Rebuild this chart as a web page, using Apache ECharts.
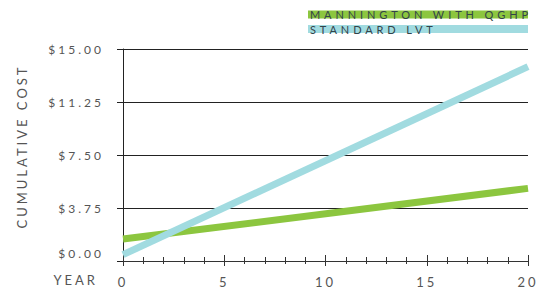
<!DOCTYPE html>
<html>
<head>
<meta charset="utf-8">
<script src="https://cdn.jsdelivr.net/npm/echarts@6/dist/echarts.min.js"></script>
<style>
  html, body { margin: 0; padding: 0; background: #fff; }
  #chart { width: 540px; height: 288px; }
  /* wide tracking like the original type */
  #chart text { letter-spacing: 3px; }
  #chart text[style*="11px"] { letter-spacing: 3.9px; }
</style>
</head>
<body>
<div id="chart"></div>
<script>
// data
const seriesNames = ['MANNINGTON WITH QGHP', 'STANDARD LVT'];
const years = [0, 20];
const manningtonCost = [1.55, 5.14];
const standardCost = [0.45, 13.75];
const seriesColors = ['#8cc63f', '#a1dbe0'];

const FONT = 'Lato';
const chart = echarts.init(document.getElementById('chart'), null, { renderer: 'svg' });

// one cross-tick x axis = an outside one plus an inside one laid on top
function xAxisBase(inside, showLabels) {
  return {
    type: 'value',
    position: 'bottom',
    min: 0,
    max: 20,
    interval: 5,
    axisLine: { show: !inside, lineStyle: { color: '#333', width: 1 } },
    axisTick: { show: true, inside: inside, length: inside ? 6 : 5, lineStyle: { color: '#333' } },
    minorTick: { show: true, splitNumber: 5, length: inside ? 4 : 3, lineStyle: { color: '#333' } },
    axisLabel: {
      show: showLabels, color: '#555', fontFamily: FONT, fontSize: 13, margin: 14
    },
    splitLine: { show: false }
  };
}

const xMain = xAxisBase(false, true);
xMain.name = 'YEAR';
xMain.nameLocation = 'start';
xMain.nameGap = 25;
xMain.nameTextStyle = {
  color: '#555', fontFamily: FONT, fontSize: 13,
  verticalAlign: 'top', lineHeight: 13, padding: [12, 0, 0, 0]
};

chart.setOption({
  animation: false,
  grid: { left: 123, right: 12, top: 49, bottom: 26, containLabel: false },
  legend: {
    data: seriesNames,
    orient: 'vertical',
    right: 12,
    top: 9,
    padding: 0,
    itemWidth: 0,
    itemHeight: 0,
    itemGap: 3.5,
    selectedMode: false,
    formatter: name => name === seriesNames[0] ? `{g|${name}}` : `{b|${name}}`,
    textStyle: {
      rich: {
        g: { backgroundColor: seriesColors[0], color: '#33434a', fontFamily: FONT, fontSize: 11,
             width: 218, height: 8, lineHeight: 8, padding: [0, 0, 0, 2] },
        b: { backgroundColor: seriesColors[1], color: '#33434a', fontFamily: FONT, fontSize: 11,
             width: 218, height: 8, lineHeight: 8, padding: [0, 0, 0, 2] }
      }
    }
  },
  xAxis: [xMain, xAxisBase(true, false)],
  yAxis: {
    type: 'value',
    min: 0,
    max: 15,
    interval: 3.75,
    name: 'CUMULATIVE COST',
    nameLocation: 'middle',
    nameGap: 95,
    nameTextStyle: { color: '#555', fontFamily: FONT, fontSize: 13, padding: [0, 0, 0, 17] },
    axisLine: { show: true, lineStyle: { color: '#222', width: 1 } },
    axisTick: { show: true, length: 6, lineStyle: { color: '#222' } },
    axisLabel: {
      color: '#555', fontFamily: FONT, fontSize: 12, margin: 19,
      formatter: v => v === 0 ? '{z|$0.00}' : '$' + v.toFixed(2),
      rich: { z: { color: '#555', fontFamily: FONT, fontSize: 12, padding: [0, 0, 16, 0] } }
    },
    splitLine: { show: true, lineStyle: { color: '#222', width: 1 } }
  },
  series: [
    {
      name: seriesNames[0],
      type: 'line',
      data: years.map((y, i) => [y, manningtonCost[i]]),
      symbol: 'none',
      color: seriesColors[0],
      lineStyle: { width: 7, cap: 'butt' }
    },
    {
      name: seriesNames[1],
      type: 'line',
      data: years.map((y, i) => [y, standardCost[i]]),
      symbol: 'none',
      color: seriesColors[1],
      lineStyle: { width: 7, cap: 'butt' }
    }
  ]
});
</script>
</body>
</html>
